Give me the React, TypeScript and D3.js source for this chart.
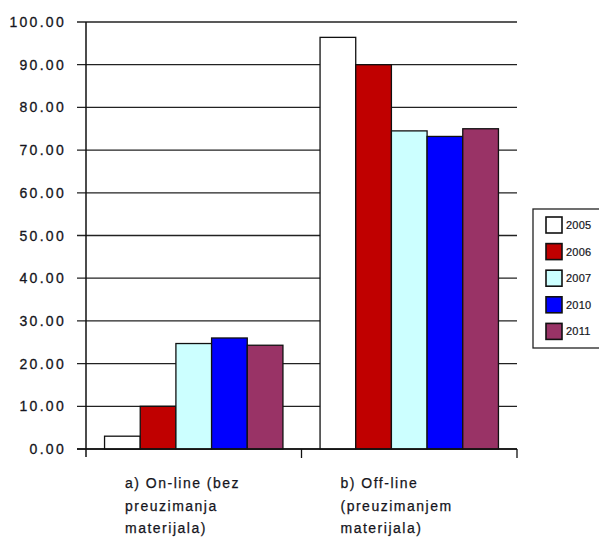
import React from "react";
import * as d3 from "d3";

const categories = ["a", "b"];
const categoryLabels: string[][] = [
  ["a) On-line  (bez", "preuzimanja", "materijala)"],
  ["b) Off-line", "(preuzimanjem", "materijala)"],
];
const years = ["2005", "2006", "2007", "2010", "2011"];
const colors = ["#ffffff", "#c00000", "#ccffff", "#0000ff", "#993366"];
const values: number[][] = [
  [3.0, 10.0, 24.7, 26.0, 24.3],
  [96.4, 90.0, 74.5, 73.2, 75.0],
];
const yTicks = [0, 10, 20, 30, 40, 50, 60, 70, 80, 90, 100];

export default function App() {
  const W = 599, H = 540;
  const left = 86, right = 517, top = 22, bottom = 449;
  const y = d3.scaleLinear().domain([0, 100]).range([bottom, top]);
  const x0 = d3.scaleBand<string>().domain(categories).range([left, right]).padding(0);
  const x1 = d3
    .scaleBand<string>()
    .domain(years)
    .range([0, x0.bandwidth()])
    .paddingInner(0)
    .paddingOuter(0.52);
  const font = "'Liberation Sans', Arial, sans-serif";
  const ink = "#151520";
  return (
    <svg width={W} height={H} style={{ position: "absolute", left: 0, top: 0, background: "#fff" }}>
      {yTicks.map((t) => (
        <g key={t}>
          <line x1={77} x2={right} y1={y(t)} y2={y(t)} stroke="#222" strokeWidth={1.3} />
          <text
            x={66}
            y={y(t)}
            dy="0.36em"
            textAnchor="end"
            fontFamily={font}
            fontSize={14}
            letterSpacing={2.3}
            fill={ink}
            stroke={ink}
            strokeWidth={0.3}
          >
            {t.toFixed(2)}
          </text>
        </g>
      ))}
      {categories.map((c, ci) => (
        <g key={c} transform={`translate(${x0(c)},0)`}>
          {years.map((yr, yi) => (
            <rect
              key={yr}
              x={x1(yr)}
              y={y(values[ci][yi])}
              width={x1.bandwidth()}
              height={bottom - y(values[ci][yi])}
              fill={colors[yi]}
              stroke="#111"
              strokeWidth={1.3}
            />
          ))}
        </g>
      ))}
      <line x1={left} x2={left} y1={top} y2={bottom + 8} stroke="#111" strokeWidth={1.5} />
      <line x1={left - 9} x2={right} y1={bottom} y2={bottom} stroke="#111" strokeWidth={1.5} />
      {categories.map((c) => (
        <line
          key={"t" + c}
          x1={(x0(c) as number) + x0.bandwidth()}
          x2={(x0(c) as number) + x0.bandwidth()}
          y1={bottom}
          y2={bottom + 9}
          stroke="#111"
          strokeWidth={1.3}
        />
      ))}
      {categories.map((c, ci) => (
        <text
          key={"l" + c}
          fontFamily={font}
          fontSize={14}
          fill={ink}
          stroke={ink}
          strokeWidth={0.25}
          letterSpacing={1.5}
        >
          {categoryLabels[ci].map((ln, li) => (
            <tspan key={li} x={(x0(c) as number) + 39} y={488 + li * 22.5}>
              {ln}
            </tspan>
          ))}
        </text>
      ))}
      <rect x={533} y={209} width={80} height={139} fill="#fff" stroke="#222" strokeWidth={1.3} />
      {years.map((yr, i) => (
        <g key={"lg" + yr}>
          <rect
            x={546}
            y={217 + i * 26.6}
            width={16}
            height={16}
            fill={colors[i]}
            stroke="#111"
            strokeWidth={1.6}
          />
          <text
            x={566}
            y={225 + i * 26.6}
            dy="0.36em"
            fontFamily={font}
            fontSize={11}
            letterSpacing={0.2}
            fill={ink}
            stroke={ink}
            strokeWidth={0.2}
          >
            {yr}
          </text>
        </g>
      ))}
    </svg>
  );
}
